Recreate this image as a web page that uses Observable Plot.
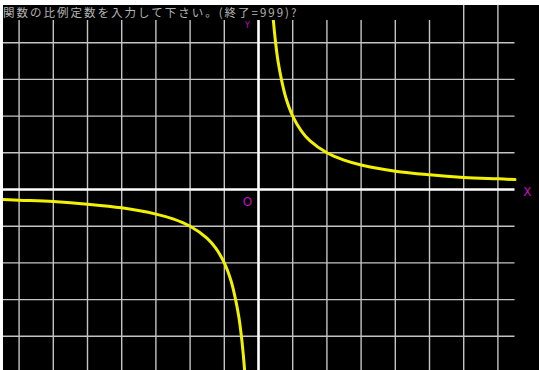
<!DOCTYPE html>
<html>
<head>
<meta charset="utf-8">
<script src="https://cdn.jsdelivr.net/npm/d3@7"></script>
<script src="https://cdn.jsdelivr.net/npm/@observablehq/plot@0.6"></script>
<style>
  html, body { margin: 0; padding: 0; background: #ffffff; }
  #wrap { position: relative; padding-left: 3px; padding-top: 5px; width: 536px; height: 365px; }
  #wrap svg { display: block; }
  #prompt {
    position: absolute; left: 3px; top: 5px; width: 432px; height: 15px;
    background: #000; color: #b4b4b4;
    font-family: "Noto Sans CJK JP", sans-serif; font-size: 11.5px;
    letter-spacing: 2px; line-height: 14px; white-space: nowrap; overflow: hidden;
  }
</style>
</head>
<body>
<div id="wrap"><div id="prompt"></div></div>
<script>
// ---- data ----
const promptText = "関数の比例定数を入力して下さい。(終了=999)?";
const gridX = [-7, -6, -5, -4, -3, -2, -1, 1, 2, 3, 4, 5, 6, 7];
const gridY = [-4, -3, -2, -1, 1, 2, 3, 4];
const hExtent = [-7.46, 7.5];           // horizontal extent of grid rows / x-axis
const xDomain = [-7.456, 8.216];
const yDomain = [-4.932, 5.014];

// y = k / x curve, right branch (k ≈ 2)
const rightX = [0.39, 0.43, 0.5, 0.57, 0.67, 0.8, 1, 1.25, 1.5, 2, 2.5, 3, 4, 5, 6, 7, 7.5];
const rightY = [5.13, 4.65, 4.0, 3.5, 3.0, 2.5, 2.0, 1.6, 1.33, 1.0, 0.8, 0.67, 0.5, 0.4, 0.33, 0.29, 0.27];
// left branch
const leftX = [-7.46, -7, -6, -5, -4, -3, -2.5, -2, -1.5, -1.25, -1, -0.8, -0.67, -0.57, -0.5, -0.45, -0.405];
const leftY = [-0.27, -0.29, -0.33, -0.4, -0.5, -0.67, -0.8, -1.0, -1.33, -1.6, -2.0, -2.5, -3.0, -3.5, -4.0, -4.45, -4.94];

const labels = ["O", "X", "Y"];
const labelX = [-0.32, 7.86, -0.32];
const labelY = [-0.34, -0.07, 4.48];
const labelSize = [12, 12, 8];

const rightBranch = rightX.map((x, i) => ({x, y: rightY[i]}));
const leftBranch = leftX.map((x, i) => ({x, y: leftY[i]}));
const labelData = labels.map((t, i) => ({t, x: labelX[i], y: labelY[i], s: labelSize[i]}));

const gridColor = "#c4c4c4";
const magenta = "#c010c0";

const chart = Plot.plot({
  width: 536,
  height: 365,
  margin: 0,
  x: {domain: xDomain, axis: null},
  y: {domain: yDomain, axis: null},
  style: {background: "#000000"},
  marks: [
    Plot.ruleX(gridX, {stroke: gridColor, strokeWidth: 1.4}),
    Plot.ruleY(gridY, {x1: hExtent[0], x2: hExtent[1], stroke: gridColor, strokeWidth: 1.4}),
    Plot.ruleX([0], {stroke: "#ffffff", strokeWidth: 2.6}),
    Plot.ruleY([0], {x1: hExtent[0], x2: hExtent[1], stroke: "#ffffff", strokeWidth: 2.6}),
    Plot.line(rightBranch, {x: "x", y: "y", stroke: "#f2f200", strokeWidth: 3, curve: "catmull-rom"}),
    Plot.line(leftBranch, {x: "x", y: "y", stroke: "#f2f200", strokeWidth: 3, curve: "catmull-rom"}),
    Plot.text(labelData.slice(0, 2), {x: "x", y: "y", text: "t", fill: magenta, fontSize: 12,
      fontFamily: "DejaVu Sans, sans-serif"}),
    Plot.text(labelData.slice(2), {x: "x", y: "y", text: "t", fill: magenta, fontSize: 8,
      fontFamily: "DejaVu Sans, sans-serif"})
  ]
});

const wrap = document.getElementById("wrap");
wrap.insertBefore(chart, wrap.firstChild);
document.getElementById("prompt").textContent = promptText;
</script>
</body>
</html>
